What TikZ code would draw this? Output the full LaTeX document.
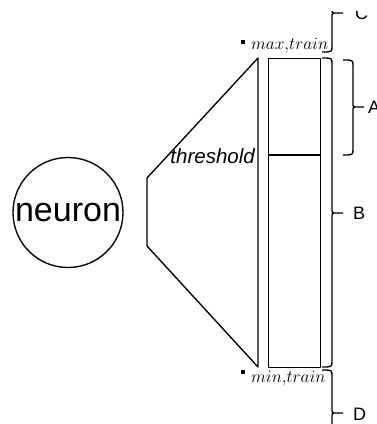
\documentclass[tikz,border=0pt]{standalone}
\usepackage{fontspec}
\setmainfont{Liberation Sans}
\newcommand\mybrace[5]{% #1 hook x, #2 vertical x, #3 top y, #4 tip y, #5 bottom y
  \draw (#1,#3) .. controls (#2,#3) .. (#2,#3+6) -- (#2,#4-4) .. controls (#2,#4) .. (#2+4,#4) -- (#2+11,#4)
        (#2+4,#4) .. controls (#2,#4) .. (#2,#4+4) -- (#2,#5-6) .. controls (#2,#5) .. (#1,#5);}
\tikzset{
  shape line/.style={line width=1.35pt, line join=round},
  lbl/.style={anchor=west, inner sep=0pt, font=\fontsize{18}{21}\selectfont},
  limtxt/.style={anchor=base west, inner sep=0pt, font=\fontsize{16}{19}\selectfont},
  dot/.style={fill, rectangle, minimum size=3.2pt, inner sep=0pt},
}
\begin{document}
\begin{tikzpicture}[x=1pt,y=-1pt]
\useasboundingbox (0,0) rectangle (377,424);
\begin{scope}
\clip (0,11) rectangle (377,424);
\begin{scope}[shape line]
\node[circle, draw, minimum size=110pt, inner sep=0pt, font=\fontsize{34}{40}\selectfont] (neuron) at (68,212.5) {neuron};
\coordinate (tl) at (147,178);
\coordinate (bl) at (147,246);
\coordinate (tr) at (258,58);
\coordinate (br) at (258,367);
\draw (tr) -- (tl) -- (bl) -- (br) -- cycle;
\node[draw, rectangle, minimum width=52pt, minimum height=309pt, anchor=north west, inner sep=0pt] (bar) at (268,58) {};
\coordinate (thl) at (268,155);
\coordinate (thr) at (320,155);
\draw (thl) -- (thr);
% braces
\mybrace{322}{332}{-26}{13}{52}
\mybrace{322}{332}{58}{213}{367}
\mybrace{343}{353}{60}{107}{155}
\mybrace{322}{332}{370}{413}{456}
\end{scope}
\node[anchor=base east, inner sep=0pt, font=\fontsize{20.5}{24}\selectfont\itshape] (thr txt) at (255,163) {threshold};
\node[dot] (maxdot) at (243,42) {};
\node[dot] (mindot) at (243,372) {};
\node[limtxt] (maxt) at (251,49) {$max{,}train$};
\node[limtxt] (mint) at (251,382) {$min{,}train$};
\node[lbl] (C) at (355,13) {C};
\node[lbl] (A) at (368,107) {A};
\node[lbl] (B) at (353,213) {B};
\node[lbl] (D) at (353,414) {D};
\end{scope}
\end{tikzpicture}
\end{document}
